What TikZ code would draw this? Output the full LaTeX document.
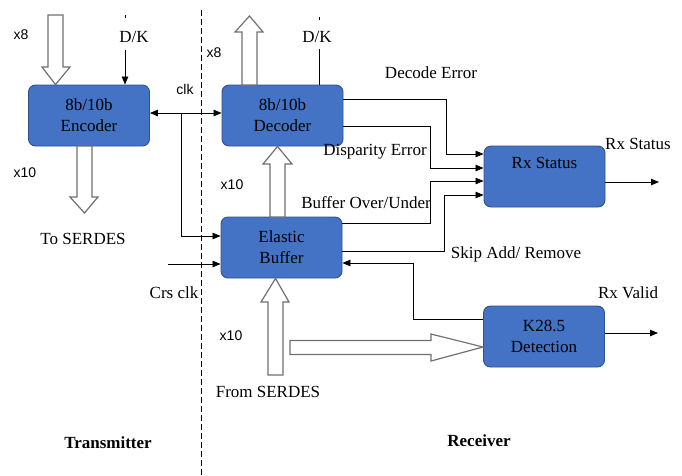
\documentclass[tikz,border=0pt]{standalone}
\usepackage{fontspec}
\setmainfont{Liberation Serif}
\newfontfamily\sansf{Liberation Sans}
\usetikzlibrary{arrows.meta}
\definecolor{boxblue}{HTML}{4472C4}
\definecolor{boxedge}{HTML}{2F528F}
\definecolor{hollowedge}{HTML}{707070}
\tikzset{
  blk/.style={draw=boxedge, fill=boxblue, text=black, line width=0.9pt, rounded corners=7pt,
    minimum width=121pt, minimum height=61pt, align=center, inner sep=0pt,
    font=\fontsize{17}{21}\selectfont},
  lbl/.style={inner sep=0pt, text=black, font=\fontsize{17}{21}\selectfont},
  slbl/.style={inner sep=0pt, text=black, font=\sansf\fontsize{14}{16}\selectfont},
  blbl/.style={inner sep=0pt, text=black, font=\bfseries\fontsize{17}{21}\selectfont},
  wire/.style={line width=0.8pt, draw=black},
  tip/.style={wire, -{Triangle[length=8pt,width=6.5pt]}},
  hollow/.style={draw=hollowedge, fill=white, line width=1.2pt, line join=miter},
}
\begin{document}
\begin{tikzpicture}[x=1pt, y=-1pt]
\useasboundingbox (0,0) rectangle (682,475);

% transmitter / receiver boundary
\draw[line width=0.8pt, dash pattern=on 6pt off 3pt] (201,10) -- (201,475);

% blocks
\node[blk] (enc) at (89,115.5) {8b/10b\\Encoder};
\node[blk] (dec) at (282.5,115.5) {8b/10b\\Decoder};
\node[blk] (eb)  at (281.5,247.5) {Elastic\\Buffer};
\node[blk] (rx)  at (544.5,176.5) {Rx Status\\\strut};
\node[blk] (k)   at (544,336.5) {K28.5\\Detection};

% wide data-path arrows
\draw[hollow] (48,15) -- (63,15) -- (63,67) -- (70,67) -- (enc.north -| 55.5,0)
  -- (42,67) -- (48,67) -- cycle;
\draw[hollow] (77,146) -- (92,146) -- (92,197) -- (98,197) -- (84.5,213)
  -- (70,197) -- (77,197) -- cycle;
\draw[hollow] (242,85) -- (242,32) -- (235,32) -- (249.5,16) -- (263,32)
  -- (257,32) -- (257,85) -- cycle;
\draw[hollow] (270,217) -- (270,164) -- (263,164) -- (dec.south -| 277.5,0)
  -- (292,164) -- (285,164) -- (285,217) -- cycle;
\draw[hollow] (268,375) -- (268,302) -- (261,302) -- (eb.south -| 275.5,0)
  -- (289,302) -- (283,302) -- (283,375) -- cycle;
\draw[hollow] (290,340.5) -- (431,340.5) -- (431,334) -- (k.west |- 0,347)
  -- (431,361) -- (431,354.5) -- (290,354.5) -- cycle;

% D/K inputs
\coordinate (dkenc) at (125,50);
\coordinate (dkdec) at (319,49);
\draw[tip] (dkenc) -- (enc.north -| dkenc);
\draw[wire] (dkdec) -- (dec.north -| dkdec);
\draw[line width=0.6pt] (125,15) -- (125,18);
\draw[line width=0.6pt] (319,17) -- (319,20);

% clock distribution
\coordinate (clkbr) at (181,113);
\draw[wire, {Triangle[length=8pt,width=6.5pt]}-{Triangle[length=8pt,width=6.5pt]}]
  (enc.east |- clkbr) -- (dec.west |- clkbr);
\draw[tip] (clkbr) |- (eb.west |- 0,236);
\coordinate (crs) at (168,264);
\draw[tip] (crs) -- (eb.west |- crs);

% status signals
\draw[tip] (dec.east |- 0,99) -- (446,99) |- (rx.west |- 0,154);
\draw[tip] (dec.east |- 0,126) -- (430,126) |- (rx.west |- 0,168);
\draw[tip] (eb.east |- 0,223) -- (430,223) |- (rx.west |- 0,181);
\draw[tip] (eb.east |- 0,251) -- (444,251) |- (rx.west |- 0,195);
\draw[tip] (k.west |- 0,319) -- (413,319) |- (eb.east |- 0,263);

% outputs
\coordinate (rxout) at (659,182);
\coordinate (kout) at (658,333);
\draw[tip] (rx.east |- rxout) -- (rxout);
\draw[tip] (k.east |- kout) -- (kout);

% labels
\node[slbl] at (21,35) {x8};
\node[slbl] at (25,173) {x10};
\node[slbl] at (214,53) {x8};
\node[slbl] at (232,185) {x10};
\node[slbl] at (231,336) {x10};
\node[slbl] at (185,89) {clk};
\node[lbl] at (134,37) {D/K};
\node[lbl] at (317,37) {D/K};
\node[lbl] at (83,239) {To SERDES};
\node[lbl] at (431,73) {Decode Error};
\node[lbl] at (375,152) {Disparity Error};
\node[lbl] at (366,203) {Buffer Over/Under};
\node[lbl] at (516,254) {Skip Add/ Remove};
\node[lbl] at (638,144) {Rx Status};
\node[lbl] at (628,293) {Rx Valid};
\node[lbl] at (174,293) {Crs clk};
\node[lbl] at (268,392) {From SERDES};
\node[blbl] at (108,443) {Transmitter};
\node[blbl] at (479,441) {Receiver};
\end{tikzpicture}
\end{document}
